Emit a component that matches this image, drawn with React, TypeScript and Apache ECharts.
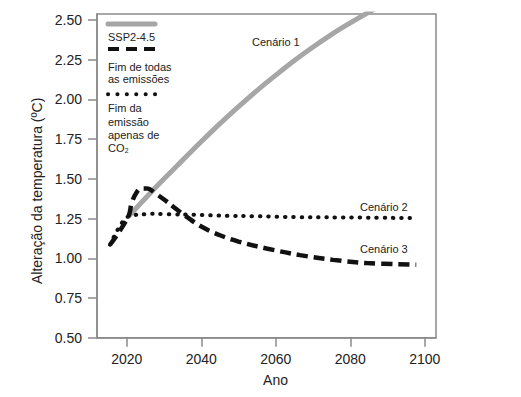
import React, { useEffect, useRef } from "react";
import * as echarts from "echarts";

// ---- Data ----
const sspYears = [2020.4, 2025, 2030, 2035, 2040, 2045, 2050, 2055, 2060, 2065, 2070, 2075, 2080, 2085, 2090];
const sspValues = [1.262, 1.378, 1.5, 1.618, 1.735, 1.848, 1.955, 2.057, 2.153, 2.245, 2.33, 2.41, 2.482, 2.55, 2.615];

const allYears = [2015.5, 2020.4, 2021.3, 2022.5, 2024, 2025.5, 2027.6, 2030, 2033, 2036, 2040, 2045, 2050, 2057.5, 2066.5, 2075.4, 2084.3, 2097.7];
const allValues = [1.085, 1.262, 1.347, 1.41, 1.44, 1.44, 1.41, 1.37, 1.315, 1.262, 1.2, 1.145, 1.105, 1.062, 1.02, 0.99, 0.97, 0.96];

const co2Years = [2015.5, 2020.4, 2023, 2027, 2035, 2050, 2070, 2097.3];
const co2Values = [1.085, 1.262, 1.275, 1.28, 1.275, 1.266, 1.258, 1.253];

const xTicks = [2020, 2040, 2060, 2080, 2100];
const yTicks = [0.5, 0.75, 1.0, 1.25, 1.5, 1.75, 2.0, 2.25, 2.5];

const FONT = "'Liberation Sans', Arial, sans-serif";
const TXT = "#222";

const pairs = (xs: number[], ys: number[]) => xs.map((x, i) => [x, ys[i]]);

export default function App() {
  const ref = useRef<HTMLDivElement>(null);
  useEffect(() => {
    if (!ref.current) return;
    const chart = echarts.init(ref.current, undefined, { renderer: "svg" });
    const axisColor = "#8a8a8a";
    chart.setOption({
      animation: false,
      backgroundColor: "#fff",
      textStyle: { fontFamily: FONT },
      grid: {
        left: 97,
        right: 85,
        top: 14,
        bottom: 59.3,
        show: true,
        borderColor: axisColor,
        borderWidth: 1.5,
      },
      xAxis: {
        type: "value",
        min: 2012,
        max: 2103,
        name: "Ano",
        nameLocation: "middle",
        nameGap: 35,
        nameTextStyle: { fontSize: 14, color: TXT, fontFamily: FONT, padding: [0, 0, 0, 18] },
        axisLine: { show: true, lineStyle: { color: axisColor, width: 1.5 } },
        axisTick: { show: true, length: 9, customValues: xTicks, lineStyle: { color: axisColor, width: 1.5 } },
        axisLabel: {
          customValues: xTicks,
          fontSize: 14,
          color: TXT,
          fontFamily: FONT,
          margin: 14,
          formatter: (v: number) => String(Math.round(v)),
        },
        splitLine: { show: false },
      },
      yAxis: {
        type: "value",
        min: 0.5,
        max: 2.538,
        name: "Alteração da temperatura (ºC)",
        nameLocation: "middle",
        nameGap: 52,
        nameTextStyle: { fontSize: 14, color: TXT, fontFamily: FONT, padding: [0, 30, 0, 0] },
        axisLine: { show: true, lineStyle: { color: axisColor, width: 1.5 } },
        axisTick: { show: true, length: 9, customValues: yTicks, lineStyle: { color: axisColor, width: 1.5 } },
        axisLabel: {
          customValues: yTicks,
          fontSize: 14,
          color: TXT,
          fontFamily: FONT,
          margin: 15,
          formatter: (v: number) => v.toFixed(2),
        },
        splitLine: { show: false },
      },
      series: [
        {
          name: "SSP2-4.5",
          type: "line",
          data: pairs(sspYears, sspValues),
          smooth: 0.4,
          symbol: "none",
          lineStyle: { color: "#a6a6a6", width: 5 },
          z: 1,
        },
        {
          name: "Fim da emissão apenas de CO2",
          type: "line",
          data: pairs(co2Years, co2Values),
          smooth: 0.3,
          smoothMonotone: "x",
          symbol: "none",
          lineStyle: { color: "#111", width: 4, type: [0.5, 7.8], cap: "round" },
          z: 2,
        },
        {
          name: "Fim de todas as emissões",
          type: "line",
          data: pairs(allYears, allValues),
          smooth: 0.4,
          symbol: "none",
          lineStyle: { color: "#111", width: 4.5, type: [11, 6] },
          z: 3,
        },
      ],
      graphic: [
        { type: "line", shape: { x1: 108, y1: 24, x2: 155, y2: 24 }, style: { stroke: "#a6a6a6", lineWidth: 5, lineCap: "round" } },
        { type: "text", x: 108, y: 36.5, style: { text: "SSP2-4.5", fontSize: 11, fontFamily: FONT, fill: TXT, verticalAlign: "middle" } },
        { type: "line", shape: { x1: 108, y1: 49, x2: 155, y2: 49 }, style: { stroke: "#111", lineWidth: 4, lineDash: [11, 7] } },
        { type: "text", x: 108, y: 60.4, style: { text: "Fim de todas\nas emissões", fontSize: 11, lineHeight: 12.5, fontFamily: FONT, fill: TXT, verticalAlign: "top" } },
        { type: "line", shape: { x1: 108, y1: 94.3, x2: 155.5, y2: 94.3 }, style: { stroke: "#111", lineWidth: 4, lineDash: [0.1, 9.3], lineCap: "round" } },
        { type: "text", x: 108, y: 101.7, style: { text: "Fim da\nemissão\napenas de\nCO₂", fontSize: 11, lineHeight: 13.3, fontFamily: FONT, fill: TXT, verticalAlign: "top" } },
        { type: "text", x: 252, y: 41.7, style: { text: "Cenário 1", fontSize: 11, fontFamily: FONT, fill: TXT, verticalAlign: "middle" } },
        { type: "text", x: 360, y: 206.7, style: { text: "Cenário 2", fontSize: 11, fontFamily: FONT, fill: TXT, verticalAlign: "middle" } },
        { type: "text", x: 360, y: 249.3, style: { text: "Cenário 3", fontSize: 11, fontFamily: FONT, fill: TXT, verticalAlign: "middle" } },
      ],
    });
    return () => chart.dispose();
  }, []);
  return <div ref={ref} style={{ position: "fixed", left: 0, top: 0, width: 521, height: 397 }} />;
}
